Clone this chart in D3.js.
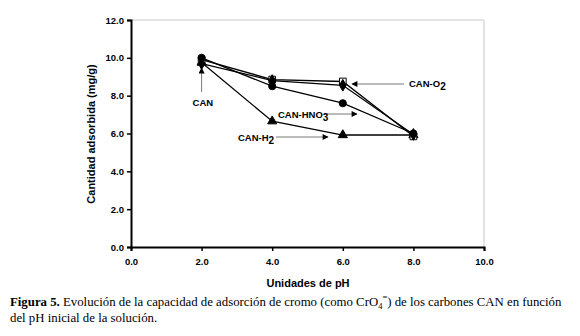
<!DOCTYPE html>
<html><head><meta charset="utf-8">
<script src="https://cdn.jsdelivr.net/npm/d3@7"></script>
<style>body{margin:0;background:#fff}svg{display:block}</style>
</head><body>
<svg id="c" width="580" height="336"></svg>
<script>
const phValues = [2, 4, 6, 8];
const seriesNames = ["CAN-HNO3", "CAN-O2", "CAN", "CAN-H2"];
const canHNO3 = [10.0, 8.5, 7.6, 6.0];
const canO2 = [9.9, 8.85, 8.75, 5.85];
const can = [9.7, 8.8, 8.55, 5.95];
const canH2 = [9.75, 6.65, 5.92, 5.92];
const xTicks = [0, 2, 4, 6, 8, 10];
const yTicks = [0, 2, 4, 6, 8, 10, 12];

const svg = d3.select("#c");
const x = d3.scaleLinear().domain([0, 10]).range([131, 484]);
const y = d3.scaleLinear().domain([0, 12]).range([247, 20]);
const fmt = d3.format(".1f");
const font = "Arial, 'Liberation Sans', sans-serif";

svg.append("path").attr("d", `M${x(0)},${y(12)}H${x(10)}V${y(0)}`).attr("fill","none").attr("stroke","#c8c8c8").attr("stroke-width",1);

const xAxis = svg.append("g").attr("transform", `translate(0,${y(0)})`)
  .call(d3.axisBottom(x).tickValues(xTicks).tickFormat(fmt).tickSize(4).tickPadding(7));
const yAxis = svg.append("g").attr("transform", `translate(${x(0)},0)`)
  .call(d3.axisLeft(y).tickValues(yTicks).tickFormat(fmt).tickSize(4).tickPadding(3));
[xAxis, yAxis].forEach(g => {
  g.select(".domain").attr("stroke","#000").attr("stroke-width",2);
  g.selectAll(".tick line").attr("stroke","#000").attr("stroke-width",1.5);
  g.selectAll(".tick text").attr("font-family",font).attr("font-weight","bold").attr("font-size",9.5).attr("fill","#000");
});

svg.append("text").attr("x", 308).attr("y", 287).attr("text-anchor","middle")
  .attr("font-family",font).attr("font-weight","bold").attr("font-size",11).text("Unidades de pH");
svg.append("text").attr("transform","translate(95,134) rotate(-90)").attr("text-anchor","middle")
  .attr("font-family",font).attr("font-weight","bold").attr("font-size",11).text("Cantidad adsorbida (mg/g)");

const data = [
  {name: seriesNames[3], vals: canH2, sym: d3.symbolTriangle, size: 36, fill: "#000"},
  {name: seriesNames[1], vals: canO2, sym: d3.symbolSquare, size: 45, fill: "#fff"},
  {name: seriesNames[2], vals: can, sym: d3.symbolDiamond, size: 40, fill: "#000"},
  {name: seriesNames[0], vals: canHNO3, sym: d3.symbolCircle, size: 40, fill: "#000"}
];
const line = d3.line().x(d => x(d[0])).y(d => y(d[1]));
data.forEach(s => {
  const pts = phValues.map((p, i) => [p, s.vals[i]]);
  svg.append("path").attr("d", line(pts)).attr("fill","none").attr("stroke","#000").attr("stroke-width",1.3);
});
data.forEach(s => {
  const pts = phValues.map((p, i) => [p, s.vals[i]]);
  svg.append("g").selectAll("path").data(pts).join("path")
    .attr("transform", d => `translate(${x(d[0])},${y(d[1])})`)
    .attr("d", d3.symbol().type(s.sym).size(s.size))
    .attr("fill", s.fill).attr("stroke","#000").attr("stroke-width",1);
});

const defs = svg.append("defs");
defs.append("marker").attr("id","ah").attr("viewBox","0 0 10 10").attr("refX",9).attr("refY",5)
  .attr("markerWidth",7).attr("markerHeight",6).attr("orient","auto").attr("markerUnits","userSpaceOnUse")
  .append("path").attr("d","M0,0L10,5L0,10Z").attr("fill","#000");
function arrow(x1,y1,x2,y2){
  svg.append("line").attr("x1",x1).attr("y1",y1).attr("x2",x2).attr("y2",y2)
    .attr("stroke","#555").attr("stroke-width",0.8).attr("marker-end","url(#ah)");
}
function label(tx, ty, main, sub){
  const t = svg.append("text").attr("x",tx).attr("y",ty).attr("font-family",font).attr("font-weight","bold").attr("font-size",9.5);
  t.append("tspan").text(main);
  if (sub) t.append("tspan").attr("dy",3).attr("font-size",10).text(sub);
}
arrow(x(2), 92, x(2), 68);
label(x(2)-9, 106, "CAN");
arrow(404, 84, 352, 84);
label(409, 87, "CAN-O", "2");
arrow(324, 114, 357, 114);
label(278, 118, "CAN-HNO", "3");
arrow(276, 137, 328, 137);
label(238, 141, "CAN-H", "2");

const serif = "'Liberation Serif','Times New Roman',serif";
const cap = svg.append("text").attr("x",10).attr("y",306).attr("font-family",serif).attr("font-size",12.8);
cap.append("tspan").attr("font-weight","bold").text("Figura 5.");
cap.append("tspan").text(" Evolución de la capacidad de adsorción de cromo (como CrO");
cap.append("tspan").attr("dy",3).attr("font-size",8.5).text("4");
cap.append("tspan").attr("dy",-9).attr("font-size",8.5).text("=");
cap.append("tspan").attr("dy",6).text(") de los carbones CAN en función");
svg.append("text").attr("x",10).attr("y",322).attr("font-family",serif).attr("font-size",12.8)
  .text("del pH inicial de la solución.");
</script>
</body></html>
